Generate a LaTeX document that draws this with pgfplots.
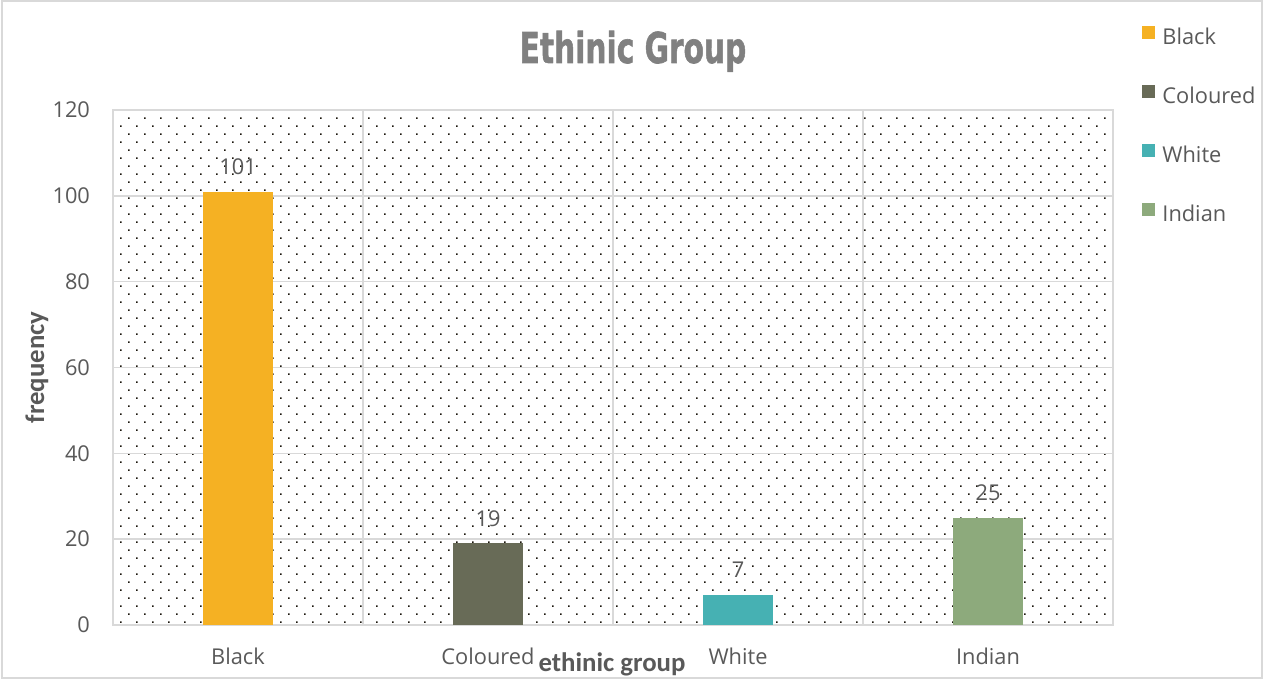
\documentclass[border=0pt]{standalone}
\usepackage{pgfplots}
\pgfplotsset{compat=1.18}
\usepackage{fontspec}
\setmainfont{Open Sans}
\newfontfamily\carlito{Carlito}
\newfontfamily\titlefont{DejaVu Sans}[BoldFeatures={FakeBold=1.5}]
\usetikzlibrary{patterns}
\definecolor{blackbar}{HTML}{F5B123}
\definecolor{colbar}{HTML}{686B57}
\definecolor{whitebar}{HTML}{46B1B3}
\definecolor{indbar}{HTML}{8DAA7C}
\definecolor{gridgray}{HTML}{D9D9D9}
\definecolor{labelgray}{HTML}{595959}
\definecolor{titlegray}{HTML}{808080}
\definecolor{dotcol}{HTML}{1A150C}
\pgfdeclarepatternformonly{mydots}{\pgfqpoint{-0.5pt}{-0.5pt}}{\pgfqpoint{8.5pt}{8.5pt}}{\pgfqpoint{8pt}{8pt}}{%
  \pgfpathrectangle{\pgfqpoint{0pt}{0pt}}{\pgfqpoint{0.8pt}{0.8pt}}%
  \pgfpathrectangle{\pgfqpoint{4pt}{4pt}}{\pgfqpoint{0.8pt}{0.8pt}}%
  \pgfusepath{fill}}
\pgfplotsset{sq/.style={legend image code/.code={\fill[#1] (0pt,0pt) rectangle (6.5pt,6.5pt);}}}
\begin{document}
\begin{tikzpicture}
\useasboundingbox (0,0) rectangle (632pt,339.5pt);
\draw[gridgray, line width=0.75pt] (1pt,0.5pt) rectangle (631pt,339pt);
\node[anchor=base, text=titlegray, font=\titlefont\bfseries\fontsize{20.6}{24}\selectfont] at (316.5pt,308pt) {\scalebox{0.72}[1.03]{Ethinic Group}};
\begin{axis}[
  at={(56.5pt,27pt)}, anchor=south west,
  width=500pt, height=257.5pt, scale only axis,
  xmin=-0.5, xmax=3.5, ymin=0, ymax=120,
  xtick={0,1,2,3}, xticklabels={Black,Coloured,White,Indian},
  minor xtick={-0.5,0.5,1.5,2.5,3.5},
  ytick={0,20,...,120},
  /pgf/number format/assume math mode=true,
  xminorgrids=true, ymajorgrids=true,
  grid style={draw=gridgray, line width=0.75pt},
  minor grid style={draw=gridgray, line width=0.75pt},
  axis line style={draw=gridgray, line width=0.75pt},
  major tick length=0pt, minor tick length=0pt,
  tick style={draw=none},
  ticklabel style={font=\fontsize{10.9}{13}\selectfont, text=labelgray},
  xticklabel style={yshift=-8pt},
  yticklabel style={xshift=-8pt},
  axis background/.style={pattern=mydots, pattern color=dotcol},
  xlabel={ethinic group},
  xlabel style={at={(axis description cs:0.499,-0.077)}, anchor=center, font=\carlito\bfseries\fontsize{13.4}{15}\selectfont, text=labelgray},
  ylabel={frequency},
  ylabel style={at={(axis description cs:-0.076,0.5)}, anchor=center, font=\carlito\bfseries\fontsize{13.4}{15}\selectfont, text=labelgray},
  ybar, bar width=35pt,
  nodes near coords,
  every node near coord/.append style={font=\fontsize{10.9}{13}\selectfont, text=labelgray, yshift=5pt},
  legend style={at={(1.029,1.163)}, anchor=north west, draw=none, fill=none, inner sep=0pt,
    row sep=17.5pt, column sep=2.5pt, font=\fontsize{10.9}{13}\selectfont, text=labelgray,
    nodes={inner sep=1pt, text height=7pt, text depth=2pt}},
  legend cell align=left,
]
\addplot[fill=blackbar, draw=none, bar shift=0pt, sq=blackbar] coordinates {(0,101)};
\addlegendentry{Black}
\addplot[fill=colbar, draw=none, bar shift=0pt, sq=colbar] coordinates {(1,19)};
\addlegendentry{Coloured}
\addplot[fill=whitebar, draw=none, bar shift=0pt, sq=whitebar] coordinates {(2,7)};
\addlegendentry{White}
\addplot[fill=indbar, draw=none, bar shift=0pt, sq=indbar] coordinates {(3,25)};
\addlegendentry{Indian}
\end{axis}
\end{tikzpicture}
\end{document}
